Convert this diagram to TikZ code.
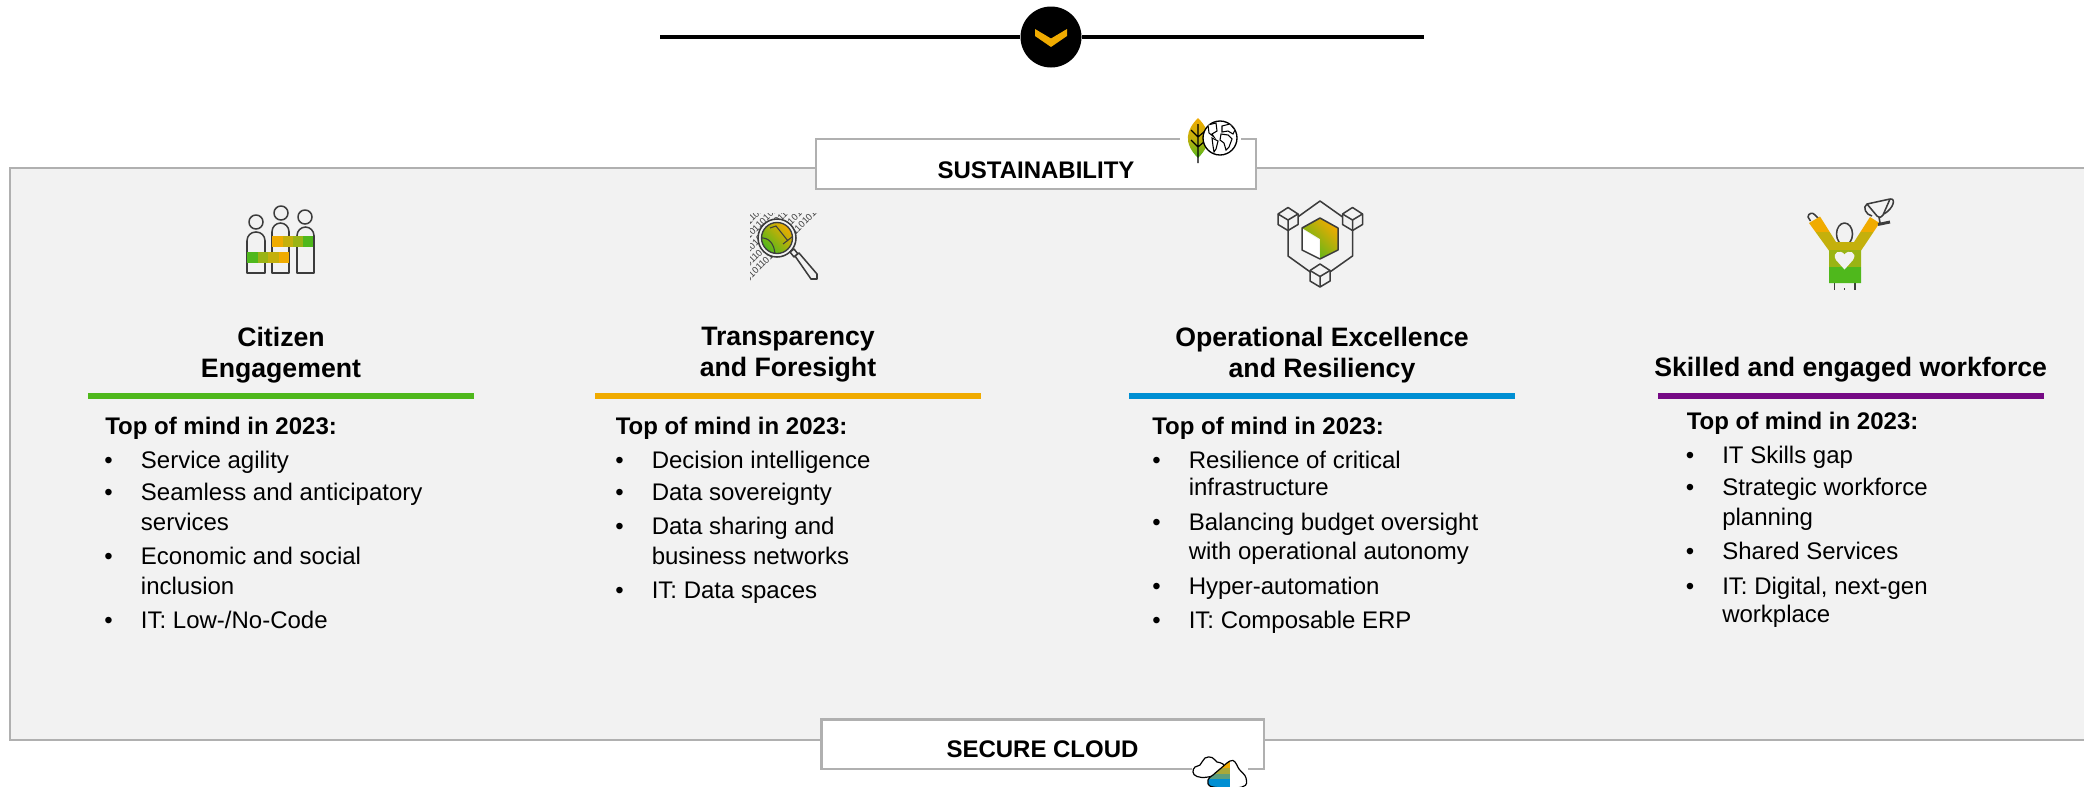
\documentclass[tikz,border=0pt]{standalone}
\usepackage{fontspec}
\setmainfont{Liberation Sans}
\usetikzlibrary{shapes.geometric}
\definecolor{cOr}{HTML}{F0AB00}
\definecolor{cOl}{HTML}{C4B00C}
\definecolor{cYg}{HTML}{9AB414}
\definecolor{cGr}{HTML}{4FB81C}
\definecolor{cBl}{HTML}{008FD3}
\definecolor{cPu}{HTML}{760A85}
\definecolor{cBg}{HTML}{F2F2F2}
\definecolor{cEdge}{HTML}{B0B0B0}
\definecolor{cIcon}{HTML}{3C3C3C}
\definecolor{cCa}{HTML}{A8A83A}
\definecolor{cCb}{HTML}{5B9E7F}
\tikzset{
  x=0.75pt,y=-0.75pt,
  txt/.style={anchor=base west,inner sep=0pt,font=\fontsize{18}{18}\selectfont,text=black},
  headtxt/.style={txt,font=\fontsize{18}{18}\selectfont\bfseries},
  titletxt/.style={anchor=base,inner sep=0pt,font=\fontsize{20}{20}\selectfont\bfseries,text=black},
  bannertxt/.style={anchor=base,inner sep=0pt,font=\fontsize{18}{18}\selectfont\bfseries,text=black},
  bul/.style={anchor=base,inner sep=0pt,font=\fontsize{18}{18}\selectfont,text=black},
  icon/.style={draw=cIcon,line width=1.15pt,line join=round},
  digits/.style={inner sep=0pt,rotate=45,text=cIcon,font=\fontsize{7}{7}\selectfont},
}
\newcommand{\hd}[3]{\node[headtxt] (#1) at (#2,#3) {Top of mind in 2023:};}
\newcommand{\bt}[4]{\node[bul] (#1b) at (#2-32,#3) {•};\node[txt] (#1) at (#2,#3) {#4};}
\newcommand{\ct}[4]{\node[txt] (#1) at (#2,#3) {#4};}
\newcommand{\cubeicon}[2]{%
  \draw[icon,fill=cBg] (#1,#2-11.5) -- (#1+10,#2-5) -- (#1+10,#2+5.5) -- (#1,#2+11.5) -- (#1-10,#2+5.5) -- (#1-10,#2-5) -- cycle;
  \draw[icon] (#1-10,#2-5) -- (#1,#2+1) -- (#1+10,#2-5) (#1,#2+1) -- (#1,#2+11.5);}
\begin{document}
\begin{tikzpicture}
\useasboundingbox (0,0) rectangle (2084,786);
% top rule with round badge
\coordinate (ruleL) at (660,37);
\coordinate (ruleR) at (1424,37);
\node[circle,fill=black,inner sep=0pt,minimum size=45.75pt] (badge) at (1051,37) {};
\draw[black,line width=2.4pt] (ruleL) -- (badge.west);
\draw[black,line width=2.4pt] (badge.east) -- (ruleR);
\fill[cOr] (1035,29) -- (1051,38.5) -- (1067,29) -- (1067,36) -- (1051,47) -- (1035,36) -- cycle;
% panel
\fill[cBg] (10,168) rectangle (2084,740);
\draw[cEdge,line width=1.7pt] (2084,168) -- (10,168) -- (10,740) -- (2084,740);
% sustainability banner
\draw[cEdge,line width=1.9pt,fill=white] (816,139) rectangle (1256,189);
\fill[white] (1180,135) rectangle (1241,143);
\node[bannertxt] (sust) at (1036,178) {SUSTAINABILITY};
\shade[top color=cOr,bottom color=cGr,middle color=cOl] (1198,118) .. controls (1186,130) and (1183,143) .. (1198,158) .. controls (1213,143) and (1210,130) .. (1198,118) -- cycle;
\draw[black,line width=.9pt] (1198,124) -- (1198,163) (1191,130) -- (1198,137) -- (1205,131) (1191,140) -- (1198,147) -- (1205,141);
\draw[black,fill=white,line width=1pt] (1220,138) circle[radius=17];
\begin{scope}
\clip (1220,138) circle[radius=17];
\draw[black,line width=.8pt,fill=white] (1208,125) -- (1216,123) -- (1217,131) -- (1212,134) -- (1214,137) -- (1209,133) -- cycle;
\draw[black,line width=.8pt,fill=white] (1212,138) -- (1218,141) -- (1216,149) -- (1214,152) -- (1213,146) -- cycle;
\draw[black,line width=.8pt,fill=white] (1221,134) -- (1228,135) -- (1232,139) -- (1229,147) -- (1226,150) -- (1224,143) -- (1220,140) -- cycle;
\draw[black,line width=.8pt,fill=white] (1222,126) -- (1230,124) -- (1235,130) -- (1233,134) -- (1228,131) -- (1222,132) -- cycle;
\end{scope}
% secure cloud banner
\draw[cEdge,line width=1.9pt,fill=white] (821.5,719.5) rectangle (1264,769);
\fill[white] (1192,765) rectangle (1248,773);
\node[bannertxt] (cloud) at (1042.5,757) {SECURE CLOUD};
\draw[black,fill=white,line width=.9pt] plot[smooth cycle,tension=.7] coordinates {(1193,772) (1195,767) (1200,765) (1205,758) (1212,757.5) (1217,762) (1223,764) (1224,772) (1208,777) (1197,776.5)};
\def\frontcloud{plot[smooth cycle,tension=.7] coordinates {(1213,787) (1208,780) (1213,775) (1220,769) (1230,761) (1235,762) (1239,769) (1246,778) (1242,787)}}
\fill[white] \frontcloud;
\begin{scope}
\clip \frontcloud;
\fill[cOr] (1200,755) rectangle (1230,768);
\fill[cCa] (1200,768) rectangle (1230,773.5);
\fill[cCb] (1200,773.5) rectangle (1230,778.5);
\fill[cBl] (1200,778.5) rectangle (1230,790);
\end{scope}
\draw[black,line width=.9pt] \frontcloud;
% icon 1: people
\draw[icon] (256,222) circle[radius=7] (281,213) circle[radius=7] (305,217) circle[radius=7];
\draw[icon] (247,273) [rounded corners=6.5pt] -- (247,232) -- (265,232) [sharp corners] -- (265,273) -- cycle;
\draw[icon] (272,273) [rounded corners=6.5pt] -- (272,223) -- (289,223) [sharp corners] -- (289,273) -- cycle;
\draw[icon] (297,273) [rounded corners=6.5pt] -- (297,227) -- (314,227) [sharp corners] -- (314,273) -- cycle;
\fill[cOr] (272,236) rectangle (282.5,247);
\fill[cOl] (282.5,236) rectangle (293,247);
\fill[cYg] (293,236) rectangle (303,247);
\fill[cGr] (303,236) rectangle (313,247);
\fill[cGr] (247,252) rectangle (257.5,263);
\fill[cYg] (257.5,252) rectangle (268,263);
\fill[cOl] (268,252) rectangle (278.5,263);
\fill[cOr] (278.5,252) rectangle (289,263);
% icon 2: magnifier over binary digits
\begin{scope}
\clip (750,213) -- (822,213) -- (750,284) -- cycle;
\foreach \i/\dx/\dy in {1/782/244,2/775/237,3/768/230,4/761/223,5/754/216}{
  \node[digits] (bin\i) at (\dx,\dy) {01011010110101101011};
}
\end{scope}
\draw[icon,fill=cBg] (777,238) circle[radius=19];
\shade[top color=cGr,bottom color=cOr,shading angle=135,draw=cIcon,line width=1pt] (777,238) circle[radius=15.5];
\begin{scope}
\clip (777,238) circle[radius=15.5];
\draw[cIcon,line width=.8pt] (760,238) .. controls (768,237) and (775,243) .. (775,256);
\draw[cIcon,line width=.8pt] (770,228) -- (776,226) -- (788,241) (783,244) -- (792,237);
\end{scope}
\draw[icon,fill=cBg] (790,252) -- (794,249) -- (798,254) -- (794,257) -- cycle;
\draw[icon,fill=cBg] (795,256) -- (799,253) -- (817,274) -- (817,279) -- (811,279) -- cycle;
% icon 3: hexagon with cubes
\draw[icon] (1320,201) -- (1352.5,224) -- (1352.5,256) -- (1320,279) -- (1288,256) -- (1288,224) -- cycle;
\cubeicon{1288}{219}
\cubeicon{1352.5}{219}
\cubeicon{1320}{275.5}
\shade[top color=cGr,bottom color=cOr,shading angle=135] (1302,228) -- (1320,218) -- (1338,228) -- (1338,250) -- (1320,259) -- (1320,239) -- cycle;
\fill[white] (1302,229) -- (1319,240) -- (1319,258.5) -- (1302,249.5) -- cycle;
\draw[icon] (1320,218) -- (1338,228) -- (1338,250) -- (1320,259) -- (1302,250) -- (1302,228) -- cycle;
% icon 4: person with trophy
\draw[icon] (1844.5,234) ellipse[x radius=8,y radius=11];
\draw[icon] (1834.3,283) -- (1834.3,289.5) (1855,283) -- (1855,289.5) (1844.5,288) -- (1844.5,290);
\draw[icon,fill=cBg] (1810.5,221) -- (1808,217) .. controls (1808,213) and (1813,212) .. (1815,215) -- (1819,219);
\begin{scope}
\clip (1809,223) -- (1820,216.5) -- (1836,242) -- (1854,242) -- (1870,217) -- (1879.5,223) -- (1861,250.7) -- (1861,283) -- (1829,283) -- (1829,250.7) -- cycle;
\fill[cOr] (1800,210) rectangle (1890,231.5);
\fill[cOl] (1800,231.5) rectangle (1890,250);
\fill[cYg] (1800,250) rectangle (1890,267);
\fill[cGr] (1800,267) rectangle (1890,284);
\end{scope}
\fill[cBg] (1844.5,269.5) -- (1836,260) .. controls (1831,252) and (1841,249) .. (1844.5,254.5) .. controls (1848,249) and (1858,252) .. (1853,260) -- cycle;
\draw[icon] (1867,204) -- (1890,199) -- (1883,215) .. controls (1881,218) and (1878,218) .. (1877,216) -- cycle;
\draw[icon] (1867,204) .. controls (1862,207) and (1866,215) .. (1872,216);
\draw[icon] (1890,199) .. controls (1896,198) and (1894,208) .. (1884,214);
\draw[icon] (1879,217) -- (1880,223);
\draw[cIcon,line width=2.2pt] (1878,224.5) -- (1890,222);
% column 1
\node[titletxt] (t1a) at (281,346) {Citizen};
\node[titletxt] (t1b) at (281,377.5) {Engagement};
\fill[cGr] (88,393) rectangle (474,399);
\hd{h1}{105}{434}
\bt{a1}{140.7}{468}{Service agility}
\bt{a2}{140.7}{500}{Seamless and anticipatory}
\ct{a2c}{140.7}{530}{services}
\bt{a3}{140.7}{564}{Economic and social}
\ct{a3c}{140.7}{594}{inclusion}
\bt{a4}{140.7}{628}{IT: Low-/No-Code}
% column 2
\node[titletxt] (t2a) at (788,345) {Transparency};
\node[titletxt] (t2b) at (788,376.7) {and Foresight};
\fill[cOr] (595,393) rectangle (981,399);
\hd{h2}{615.5}{434}
\bt{b1}{651.5}{468}{Decision intelligence}
\bt{b2}{651.5}{500}{Data sovereignty}
\bt{b3}{651.5}{534.5}{Data sharing and}
\ct{b3c}{651.5}{564}{business networks}
\bt{b4}{651.5}{598.5}{IT: Data spaces}
% column 3
\node[titletxt] (t3a) at (1322,346) {Operational Excellence};
\node[titletxt] (t3b) at (1322,377.5) {and Resiliency};
\fill[cBl] (1129,393) rectangle (1515,399);
\hd{h3}{1152}{434}
\bt{c1}{1188.5}{468}{Resilience of critical}
\ct{c1c}{1188.5}{495.5}{infrastructure}
\bt{c2}{1188.5}{530}{Balancing budget oversight}
\ct{c2c}{1188.5}{559}{with operational autonomy}
\bt{c3}{1188.5}{594}{Hyper-automation}
\bt{c4}{1188.5}{628}{IT: Composable ERP}
% column 4
\node[titletxt] (t4a) at (1850.7,376.7) {Skilled and engaged workforce};
\fill[cPu] (1657.7,393) rectangle (2043.7,399);
\hd{h4}{1686.5}{429}
\bt{d1}{1722}{463}{IT Skills gap}
\bt{d2}{1722}{495}{Strategic workforce}
\ct{d2c}{1722}{525}{planning}
\bt{d3}{1722}{559}{Shared Services}
\bt{d4}{1722}{594}{IT: Digital, next-gen}
\ct{d4c}{1722}{622.7}{workplace}
\end{tikzpicture}
\end{document}
